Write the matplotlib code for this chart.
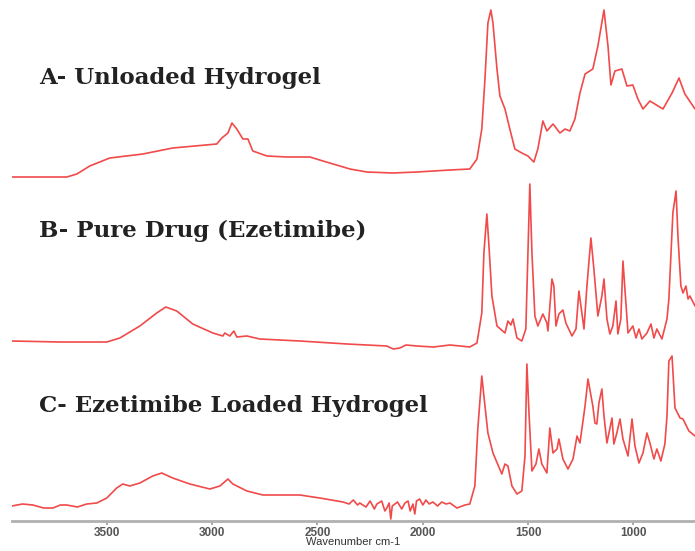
#!/usr/bin/env python3

import matplotlib.pyplot as plt

# FTIR spectra, wavenumber (cm-1) and stacked intensity (arbitrary units)
wn_a = [3951, 3690, 3642, 3581, 3486, 3329, 3187, 2978, 2954, 2925, 2906, 2883,
        2854, 2830, 2807, 2740, 2645, 2536, 2474, 2346, 2266, 2142, 2028, 1871,
        1777, 1743, 1720, 1705, 1691, 1677, 1667, 1648, 1634, 1610, 1587, 1563,
        1530, 1501, 1473, 1454, 1430, 1411, 1382, 1349, 1325, 1302, 1278, 1254,
        1230, 1193, 1169, 1140, 1121, 1107, 1088, 1055, 1031, 1003, 979, 955,
        922, 860, 817, 784, 756, 708]
int_a = [344, 344, 347, 355, 363, 367, 373, 377, 383, 388, 398, 392,
         382, 382, 370, 365, 364, 364, 360, 352, 349, 348, 349, 351,
         352, 362, 392, 442, 498, 511, 498, 452, 425, 412, 392, 372,
         368, 365, 359, 372, 400, 390, 397, 388, 392, 390, 402, 428,
         447, 452, 475, 511, 475, 436, 450, 452, 435, 436, 422, 412,
         420, 412, 428, 443, 427, 412]

wn_b = [3951, 3723, 3500, 3438, 3343, 3263, 3220, 3168, 3092, 2997, 2949, 2940,
        2916, 2897, 2883, 2835, 2774, 2584, 2360, 2171, 2140, 2109, 2080, 2028,
        1950, 1871, 1777, 1743, 1720, 1710, 1696, 1686, 1672, 1648, 1610, 1596,
        1582, 1572, 1553, 1530, 1511, 1501, 1492, 1482, 1468, 1454, 1430, 1411,
        1406, 1387, 1378, 1368, 1354, 1335, 1321, 1292, 1273, 1259, 1245, 1235,
        1221, 1202, 1188, 1169, 1150, 1140, 1126, 1112, 1098, 1083, 1074, 1060,
        1050, 1036, 1026, 1003, 988, 974, 960, 936, 917, 903, 889, 865,
        841, 832, 813, 798, 789, 775, 765, 751, 741, 732, 708]
int_b = [180, 179, 179, 183, 195, 208, 214, 210, 197, 188, 185, 188,
         185, 190, 184, 185, 182, 180, 177, 175, 172, 173, 176, 175,
         174, 176, 174, 178, 208, 268, 307, 275, 225, 195, 188, 200,
         196, 202, 183, 180, 192, 268, 337, 268, 205, 195, 207, 198,
         190, 242, 235, 195, 207, 211, 198, 185, 192, 230, 208, 192,
         235, 283, 252, 205, 225, 242, 202, 187, 195, 220, 187, 202,
         260, 218, 188, 195, 183, 192, 182, 188, 197, 183, 192, 182,
         202, 222, 308, 330, 285, 235, 228, 235, 222, 225, 215]

wn_c = [3951, 3900, 3851, 3800, 3756, 3720, 3690, 3640, 3595, 3547, 3500, 3453,
        3424, 3391, 3343, 3282, 3239, 3187, 3106, 3011, 2963, 2925, 2902, 2835,
        2759, 2584, 2489, 2379, 2350, 2330, 2310, 2299, 2270, 2250, 2230, 2218,
        2195, 2180, 2171, 2160, 2152, 2145, 2120, 2100, 2085, 2070, 2060, 2047,
        2038, 2030, 2015, 2000, 1985, 1970, 1952, 1930, 1910, 1890, 1871, 1838,
        1800, 1777, 1753, 1739, 1720, 1705, 1691, 1667, 1625, 1610, 1596, 1577,
        1553, 1530, 1515, 1506, 1496, 1482, 1463, 1449, 1435, 1411, 1397, 1382,
        1363, 1354, 1335, 1311, 1287, 1268, 1254, 1230, 1216, 1193, 1183, 1174,
        1164, 1150, 1140, 1126, 1102, 1093, 1079, 1064, 1050, 1026, 1007, 993,
        974, 955, 936, 922, 903, 889, 870, 851, 841, 832, 817, 803,
        779, 765, 737, 708]
int_c = [15, 17, 16, 13, 13, 16, 16, 14, 17, 18, 23, 33,
         37, 35, 38, 45, 48, 43, 37, 32, 35, 42, 37, 30,
         26, 26, 23, 19, 17, 21, 16, 18, 14, 20, 12, 17,
         20, 10, 13, 18, 2, 15, 19, 12, 18, 20, 10, 17,
         7, 20, 22, 16, 21, 17, 19, 15, 19, 17, 18, 13,
         16, 17, 35, 92, 145, 115, 88, 68, 47, 57, 55, 35,
         27, 30, 65, 157, 108, 50, 57, 72, 57, 48, 93, 68,
         72, 82, 62, 52, 62, 85, 78, 115, 142, 115, 98, 97,
         118, 132, 105, 78, 103, 77, 88, 102, 82, 65, 102, 75,
         58, 68, 88, 78, 62, 72, 60, 77, 105, 160, 165, 113,
         103, 102, 90, 85]

labels = ['A- Unloaded Hydrogel', 'B- Pure Drug (Ezetimibe)',
          'C- Ezetimibe Loaded Hydrogel']
label_y = [443, 290, 115]
ticks = [3500, 3000, 2500, 2000, 1500, 1000]

fig = plt.figure(figsize=(6.95, 5.51), dpi=100)
ax = fig.add_axes([12 / 695, 30 / 551, 683 / 695, 521 / 551])

red = '#ee2a2a'
for wn, vals in [(wn_a, int_a), (wn_b, int_b), (wn_c, int_c)]:
    ax.plot(wn, vals, color=red, lw=1.2, alpha=0.85,
            solid_joinstyle='round', solid_capstyle='round')

for text, y in zip(labels, label_y):
    ax.text(3820, y, text, fontsize=16.5, fontweight='bold', family='DejaVu Serif',
            color='#222222', va='center', ha='left')

ax.set_xlim(3950, 708)
ax.set_ylim(0, 521)
for side in ['top', 'right', 'left']:
    ax.spines[side].set_visible(False)
ax.spines['bottom'].set_color('#b0b0b0')
ax.spines['bottom'].set_linewidth(2)
ax.set_yticks([])
ax.set_xticks(ticks)
ax.set_xticklabels([str(t) for t in ticks], fontsize=8.5, fontweight='bold',
                   color='#555555', family='Liberation Sans')
ax.tick_params(axis='x', direction='out', length=3, width=1.2, color='#999999', pad=1)
ax.set_xlabel('Wavenumber cm-1', fontsize=8, color='#333333', labelpad=-1,
              family='Liberation Sans')

fig.savefig('out.png', dpi=100)
